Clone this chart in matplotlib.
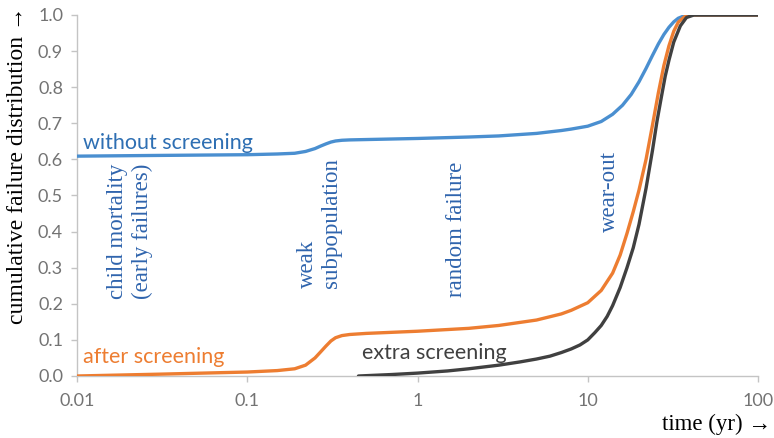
import matplotlib
matplotlib.use("Agg")
import matplotlib.pyplot as plt
from matplotlib.ticker import FixedLocator, FixedFormatter, NullLocator

# Cumulative failure distribution over time (bathtub-curve phases)
t_without = [0.01, 0.03, 0.1, 0.15, 0.19, 0.22, 0.25, 0.27, 0.29, 0.31, 0.33, 0.36, 0.4, 0.5,
             1, 2, 3, 5, 7, 8, 10, 12, 14, 16, 18, 20, 22, 24, 26, 28, 30, 32, 34, 37, 40, 100]
F_without = [0.609, 0.611, 0.613, 0.615, 0.617, 0.622, 0.630, 0.637, 0.643, 0.648, 0.651, 0.653, 0.654, 0.655,
             0.658, 0.662, 0.665, 0.672, 0.680, 0.684, 0.692, 0.705, 0.725, 0.750, 0.780, 0.815, 0.852, 0.888,
             0.920, 0.946, 0.966, 0.981, 0.991, 0.998, 1.0, 1.0]

t_after = [0.01, 0.03, 0.1, 0.15, 0.19, 0.22, 0.25, 0.27, 0.29, 0.31, 0.33, 0.36, 0.4, 0.5,
           1, 2, 3, 5, 7, 8, 10, 12, 14, 15.5, 17, 18.5, 20, 22, 24, 26, 28, 30, 32, 34, 37, 40, 100]
F_after = [0.0, 0.005, 0.011, 0.015, 0.020, 0.030, 0.050, 0.067, 0.083, 0.097, 0.106, 0.112, 0.115, 0.118,
           0.124, 0.132, 0.140, 0.155, 0.172, 0.182, 0.203, 0.237, 0.285, 0.335, 0.395, 0.455, 0.515,
           0.600, 0.695, 0.785, 0.860, 0.915, 0.955, 0.980, 0.995, 1.0, 1.0]

t_extra = [0.45, 0.7, 1, 1.5, 2, 3, 4, 5, 6, 7, 8, 9, 10, 11, 12, 13, 14, 15.5, 17, 18.5,
           20, 22, 24, 25.5, 27, 28.5, 30, 32, 35, 38, 42, 100]
F_extra = [0.0, 0.004, 0.008, 0.014, 0.020, 0.030, 0.039, 0.047, 0.055, 0.065, 0.075, 0.086, 0.100,
           0.120, 0.140, 0.165, 0.195, 0.245, 0.300, 0.355, 0.420, 0.520, 0.625, 0.705, 0.770, 0.830,
           0.875, 0.925, 0.970, 0.993, 1.0, 1.0]

x_ticks = [0.01, 0.1, 1, 10, 100]
x_tick_labels = ["0.01", "0.1", "1", "10", "100"]
y_ticks = [round(0.1 * i, 1) for i in range(11)]
y_tick_labels = [f"{v:.1f}" for v in y_ticks]

BLUE = "#4a8fd0"
ORANGE = "#ed7d31"
DARK = "#404040"
TEXT_BLUE = "#2e6fb3"
NOTE_BLUE = "#2f64ad"
TICK_GRAY = "#737373"
AXIS_GRAY = "#c4c4c4"

fig = plt.figure(figsize=(7.74, 4.38), dpi=100)
ax = fig.add_axes([77 / 774, 62 / 438, 681 / 774, 361 / 438])

lw = 2.4
ax.plot(t_without, F_without, color=BLUE, lw=lw, solid_capstyle="round", zorder=3)
ax.plot(t_after, F_after, color=ORANGE, lw=lw, solid_capstyle="round", zorder=3)
ax.plot(t_extra, F_extra, color=DARK, lw=lw, solid_capstyle="round", zorder=4)

ax.set_xscale("log")
ax.set_xlim(0.01, 100)
ax.set_ylim(0, 1.0)
ax.xaxis.set_major_locator(FixedLocator(x_ticks))
ax.xaxis.set_major_formatter(FixedFormatter(x_tick_labels))
ax.xaxis.set_minor_locator(NullLocator())
ax.yaxis.set_major_locator(FixedLocator(y_ticks))
ax.yaxis.set_major_formatter(FixedFormatter(y_tick_labels))

for side in ("top", "right"):
    ax.spines[side].set_visible(False)
for side in ("left", "bottom"):
    ax.spines[side].set_color(AXIS_GRAY)
    ax.spines[side].set_linewidth(1.0)
ax.tick_params(axis="both", colors=AXIS_GRAY, length=4, width=1.0, direction="out",
               labelcolor=TICK_GRAY, labelsize=13)
ax.tick_params(axis="x", pad=8)
ax.tick_params(axis="y", pad=6)
for lab in ax.get_xticklabels() + ax.get_yticklabels():
    lab.set_family("Lato")

sans = "Lato"
serif = "Liberation Serif"

ax.text(0.0108, 0.645, "without screening", color=TEXT_BLUE, fontsize=15.5, family=sans,
        ha="left", va="center")
ax.text(0.0108, 0.054, "after screening", color=ORANGE, fontsize=15.5, family=sans,
        ha="left", va="center")
ax.text(0.47, 0.063, "extra screening", color=DARK, fontsize=15.5, family=sans,
        ha="left", va="center")

note_kw = dict(color=NOTE_BLUE, fontsize=16.5, family=serif, rotation=90,
               va="bottom", ha="center", multialignment="left", linespacing=1.2)
ax.text(0.0205, 0.212, "child mortality\n(early failures)", **note_kw)
ax.text(0.265, 0.243, "weak\nsubpopulation", **note_kw)
ax.text(1.7, 0.22, "random failure", **note_kw)
ax.text(13.5, 0.40, "wear-out", **note_kw)

fig.text(18 / 774, 1 - 165 / 438, "cumulative failure distribution \u2192", rotation=90,
         family=serif, fontsize=17, color="black", ha="center", va="center")
fig.text(771 / 774, 1 - 424 / 438, "time (yr) \u2192", family=serif, fontsize=16.5,
         color="black", ha="right", va="center")

fig.savefig("out.png", dpi=100)
